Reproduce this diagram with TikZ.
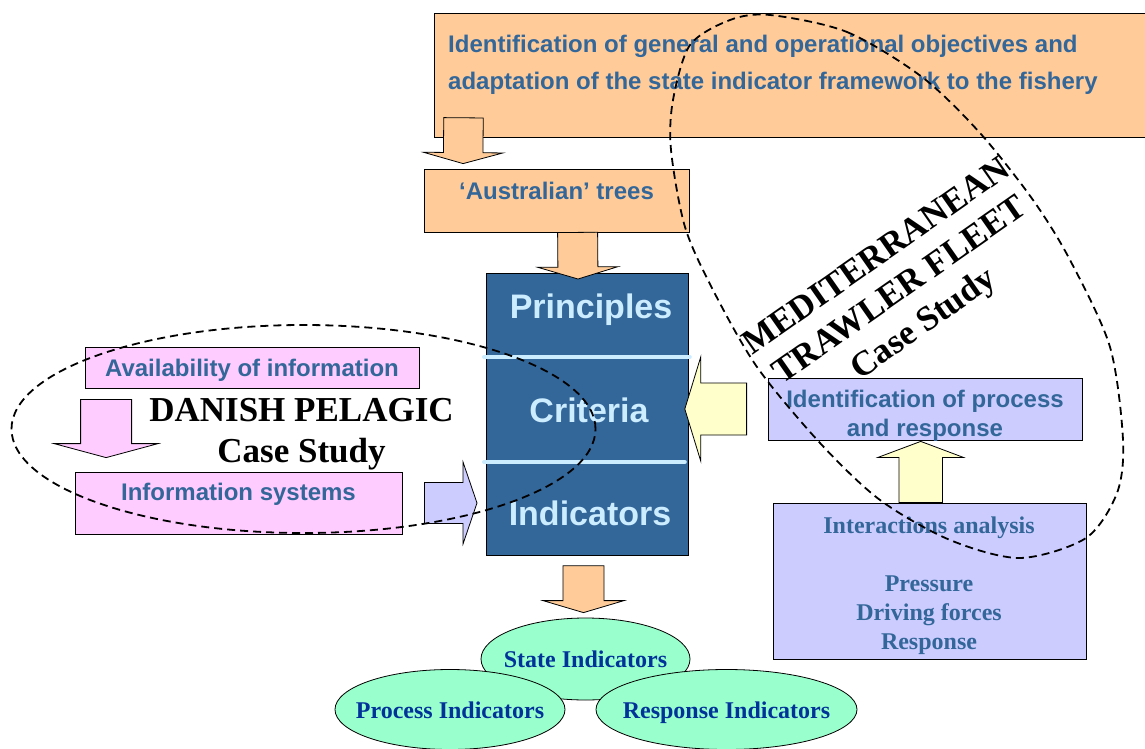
\documentclass[tikz,border=0pt]{standalone}
\usepackage{fontspec}
\setmainfont{Liberation Serif}
\setsansfont{Liberation Sans}
\usepackage{tikz}
\usetikzlibrary{calc,positioning,shapes.geometric}

\definecolor{steel}{HTML}{336699}
\definecolor{paleblue}{HTML}{CCECFF}
\definecolor{peach}{HTML}{FFCC99}
\definecolor{rose}{HTML}{FFCCFF}
\definecolor{lavender}{HTML}{CCCCFF}
\definecolor{cream}{HTML}{FFFFCC}
\definecolor{mint}{HTML}{99FFCC}
\definecolor{navy}{HTML}{003399}

% block arrow: [style]{tail}{tip}{half shaft}{half head}{head length}
\newcommand{\fatarrow}[6][]{%
 \coordinate (fa-tail) at (#2);
 \coordinate (fa-tip) at (#3);
 \coordinate (fa-base) at ($(fa-tip)!#6!(fa-tail)$);
 \draw[blockarrow,#1] ($(fa-tail)!#4!90:(fa-tip)$) -- ($(fa-base)!#4!-90:(fa-tail)$)
 -- ($(fa-base)!#5!-90:(fa-tail)$) -- (fa-tip) -- ($(fa-base)!#5!90:(fa-tail)$)
 -- ($(fa-base)!#4!90:(fa-tail)$) -- ($(fa-tail)!#4!-90:(fa-tip)$) -- cycle;
}

\begin{document}
\begin{tikzpicture}[x=1pt,y=-1pt,
 box/.style={rectangle,draw=black,line width=0.8pt,inner sep=0pt,text=steel,
 font=\sffamily\bfseries\fontsize{24}{28.5}\selectfont},
 sanslabel/.style={inner sep=0pt,text=steel,font=\sffamily\bfseries\fontsize{24}{28.5}\selectfont},
 pcilabel/.style={inner sep=0pt,text=paleblue,font=\sffamily\bfseries\fontsize{34}{40}\selectfont},
 seriflabel/.style={inner sep=0pt,text=steel,font=\rmfamily\bfseries\fontsize{24}{29}\selectfont},
 caselabel/.style={inner sep=0pt,text=black,font=\rmfamily\bfseries\fontsize{35}{41}\selectfont},
 indicator/.style={ellipse,draw=black,line width=0.8pt,fill=mint,inner xsep=-40pt,inner ysep=0pt,text=navy,
 font=\rmfamily\bfseries\fontsize{24}{28}\selectfont,text height=17pt,text depth=0pt},
 blockarrow/.style={draw=black,line width=0.8pt,line join=miter},
 divider/.style={draw=paleblue,line width=4pt,line cap=round},
 caseloop/.style={draw=black,line width=1.8pt,dash pattern=on 8pt off 5pt}]

\useasboundingbox (0,0) rectangle (1145,749);

% objectives and trees
\node[box,fill=peach,anchor=north west,minimum width=712pt,minimum height=124pt] (goals) at (434,13) {};
\node[sanslabel,anchor=north west,align=left,font=\sffamily\bfseries\fontsize{24}{37}\selectfont] (goaltext) at (448,34.5)
 {Identification of general and operational objectives and\\adaptation of the state indicator framework to the fishery};
\node[box,fill=peach,minimum width=265pt,minimum height=63pt,text height=17.5pt,text depth=20.5pt] (trees) at (556.5,200.5) {‘Australian’ trees};
\fatarrow[fill=peach]{[xshift=29.5pt,yshift=20pt]goals.south west}{[xshift=39.5pt,yshift=5pt]trees.north west}{19.75pt}{39.75pt}{11pt}

% principles, criteria, indicators
\node[box,fill=steel,anchor=north west,minimum width=202pt,minimum height=282pt] (pci) at (486,273) {};
\node[pcilabel,anchor=base] (principles) at (591,318) {Principles};
\node[pcilabel,anchor=base] (criteria) at (589,422) {Criteria};
\node[pcilabel,anchor=base] (indicators) at (590,525) {Indicators};
\draw[divider] ($(pci.north west)+(-2,84)$) -- ($(pci.north east)+(1,84)$);
\draw[divider] ($(pci.north west)+(-2,189)$) -- ($(pci.north east)+(-4,189)$);
\fatarrow[fill=peach]{[xshift=154pt]trees.south west}{[xshift=92pt,yshift=-6pt]pci.north west}{20pt}{40pt}{12pt}

% mediterranean side
\node[box,fill=lavender,minimum width=314pt,minimum height=62pt] (procid) at (925,409) {};
\node[sanslabel,align=center,anchor=north] (proctext) at (925,390.2) {Identification of process\\and response};
\node[box,fill=lavender,minimum width=313pt,minimum height=156pt] (drivers) at (929.5,581) {};
\node[seriflabel,align=center,anchor=north] (drivertext) at (929,516.5)
 {Interactions analysis\\[29pt]Pressure\\Driving forces\\Response};
\fatarrow[fill=cream]{[xshift=-21pt]procid.west}{[xshift=-4pt]pci.east |- procid.west}{26pt}{52.25pt}{16pt}
\fatarrow[fill=cream]{[xshift=-8.8pt]drivers.north}{[xshift=-4.3pt,yshift=-1pt]procid.south}{21.7pt}{42.7pt}{16pt}

% danish side
\node[box,fill=rose,minimum width=334pt,minimum height=41pt,text height=17.5pt,text depth=0.5pt] (avail) at (252,367.5) {Availability of information};
\node[box,fill=rose,minimum width=327pt,minimum height=62pt,text height=17.5pt,text depth=23.5pt] (infosys) at (238.5,503) {Information systems};
\fatarrow[fill=rose]{[xshift=21.5pt,yshift=-11pt]avail.south west}{[xshift=31.5pt,yshift=14pt]infosys.north west}{25.5pt}{52pt}{14pt}
\fatarrow[fill=lavender]{[xshift=22pt]infosys.east}{[xshift=-9pt]pci.west |- infosys.east}{20.5pt}{41pt}{14pt}

% indicators
\node[indicator,minimum width=209pt,minimum height=82pt] (state) at (585.5,659) {State Indicators};
\node[indicator,minimum width=230pt,minimum height=80pt] (process) at (450,709.5) {Process Indicators};
\node[indicator,minimum width=261pt,minimum height=80pt] (response) at (726.5,709.5) {Response Indicators};
\fatarrow[fill=peach]{[xshift=97.5pt,yshift=-10pt]pci.south west}{[xshift=-2pt,yshift=5pt]state.north}{20.5pt}{40.5pt}{12pt}

% case studies
\node[caselabel,align=center,anchor=north] (danish) at (301.5,398.5) {DANISH PELAGIC\\Case Study};
\node[caselabel,align=center,rotate=35] (medit) at (901,292) {MEDITERRANEAN\\TRAWLER FLEET\\Case Study};
\draw[caseloop] (303.5,429) ellipse [x radius=292pt,y radius=104pt];
\draw[caseloop] plot[smooth cycle] coordinates {(770,15) (847,32) (922,77) (980,133) (1033,200)
 (1070,260) (1110,347) (1123,440) (1117,493) (1086,538) (1020,558) (950,540) (880,500)
 (820,443) (757,367) (713,290) (685,227) (671,150) (673,100) (690,45) (730,20)};
\end{tikzpicture}
\end{document}
